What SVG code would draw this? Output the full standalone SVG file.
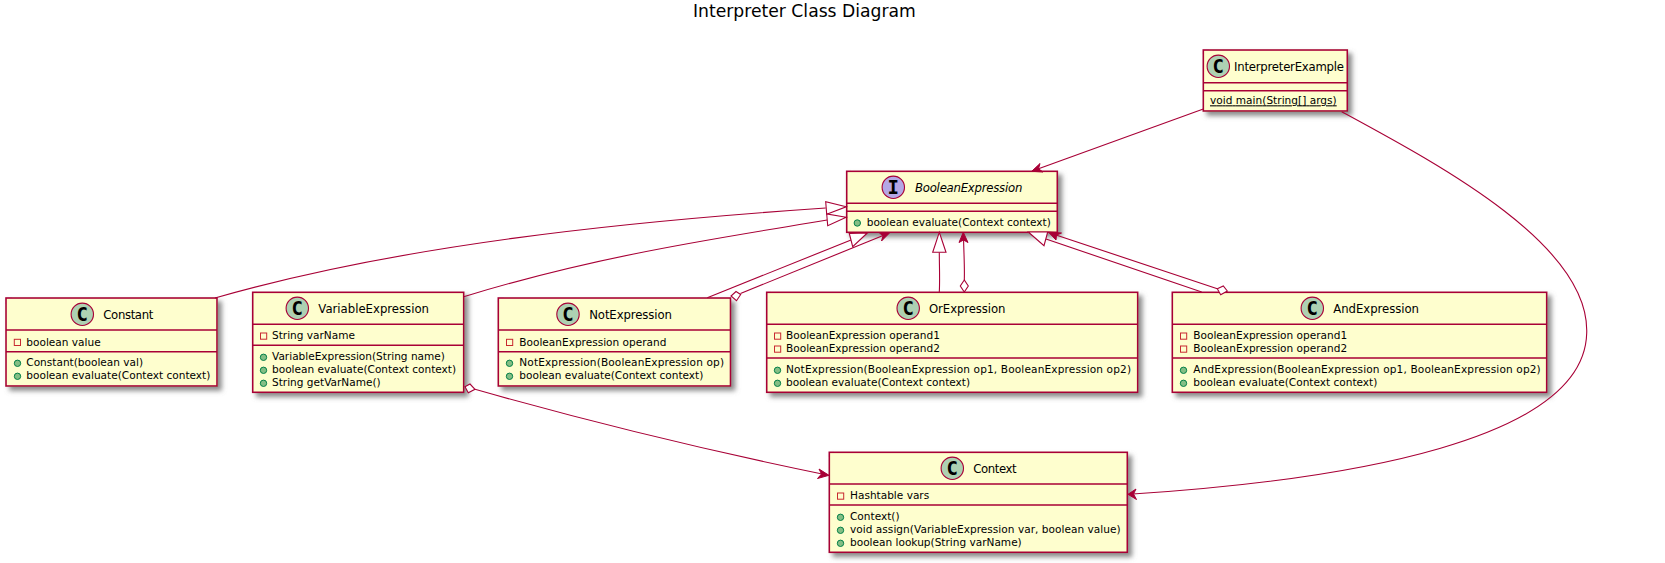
<svg xmlns="http://www.w3.org/2000/svg" width="1665" height="563" viewBox="0 0 1665 563">
<style>
text{font-family:"DejaVu Sans",sans-serif;fill:#000}
.t{font-size:17.2px}
.h{font-size:11.7px}
.m{font-size:10.55px}
.box{fill:#FEFECE;stroke:#A80036;stroke-width:1.6;filter:url(#sh)}
.sep{stroke:#A80036;stroke-width:1.6;fill:none}
.cc{fill:#ADD1B2;stroke:#A80036;stroke-width:1.1}
.ci{fill:#B4A7E5;stroke:#A80036;stroke-width:1.1}
.l{font-family:"DejaVu Sans Mono",monospace;font-size:19px;font-weight:bold;text-anchor:middle}
.pub{fill:#84BE84;stroke:#038048;stroke-width:1}
.pri{fill:none;stroke:#C82930;stroke-width:1}
.c{fill:none;stroke:#A80036;stroke-width:1.1}
.tri{fill:#fff;stroke:#A80036;stroke-width:1.1}
.arr{fill:#A80036;stroke:#A80036;stroke-width:1}
</style>
<defs>
<filter id="sh" x="-10%" y="-20%" width="125%" height="145%"><feDropShadow dx="4" dy="4" stdDeviation="2.5" flood-color="#777" flood-opacity="0.85"/></filter>
</defs>
<text class="t" x="693" y="16.5">Interpreter Class Diagram</text>
<g id="InterpreterExample">
<rect class="box" x="1203.3" y="50" width="144" height="61"/>
<path class="sep" d="M1203.3 82.7H1347.3M1203.3 90.7H1347.3"/>
<circle class="cc" cx="1218.3" cy="66.3" r="11.2"/><text class="l" x="1218.3" y="73">C</text>
<text class="h" x="1234" y="71" textLength="110">InterpreterExample</text>
<text class="m" x="1210" y="104.3" textLength="126.7" text-decoration="underline">void main(String[] args)</text>
</g>
<g id="BooleanExpression">
<rect class="box" x="846.7" y="171.3" width="210.6" height="61"/>
<path class="sep" d="M846.7 203.3H1057.3M846.7 211.3H1057.3"/>
<circle class="ci" cx="893.3" cy="187.3" r="11.2"/><text class="l" x="893.3" y="194">I</text>
<text class="h" x="915" y="191.5" font-style="italic" textLength="107.3">BooleanExpression</text>
<circle class="pub" cx="857.3" cy="223" r="3.2"/>
<text class="m" x="866.7" y="226">boolean evaluate(Context context)</text>
</g>
<g id="Constant">
<rect class="box" x="6" y="298" width="211" height="88"/>
<path class="sep" d="M6 330H217M6 351.7H217"/>
<circle class="cc" cx="82.3" cy="314.3" r="11.2"/><text class="l" x="82.3" y="321">C</text>
<text class="h" x="103.3" y="319" textLength="50">Constant</text>
<rect class="pri" x="14.3" y="339.3" width="6.2" height="6.2"/>
<text class="m" x="26.3" y="345.7">boolean value</text>
<circle class="pub" cx="17.5" cy="363.3" r="3.2"/><circle class="pub" cx="17.5" cy="376.3" r="3.2"/>
<text class="m" x="26.3" y="366">Constant(boolean val)</text>
<text class="m" x="26.3" y="379">boolean evaluate(Context context)</text>
</g>
<g id="VariableExpression">
<rect class="box" x="252.7" y="292.3" width="211" height="100"/>
<path class="sep" d="M252.7 324.3H463.7M252.7 345.3H463.7"/>
<circle class="cc" cx="297.3" cy="308.3" r="11.2"/><text class="l" x="297.3" y="315">C</text>
<text class="h" x="318.3" y="313" textLength="110.7">VariableExpression</text>
<rect class="pri" x="260.5" y="333" width="6.2" height="6.2"/>
<text class="m" x="272" y="339.3">String varName</text>
<circle class="pub" cx="263.5" cy="357.3" r="3.2"/><circle class="pub" cx="263.5" cy="370.3" r="3.2"/><circle class="pub" cx="263.5" cy="383.3" r="3.2"/>
<text class="m" x="272" y="360">VariableExpression(String name)</text>
<text class="m" x="272" y="373">boolean evaluate(Context context)</text>
<text class="m" x="272" y="386">String getVarName()</text>
</g>
<g id="NotExpression">
<rect class="box" x="498.3" y="298" width="232.2" height="88"/>
<path class="sep" d="M498.3 330H730.5M498.3 351.7H730.5"/>
<circle class="cc" cx="568" cy="314.3" r="11.2"/><text class="l" x="568" y="321">C</text>
<text class="h" x="589.2" y="319" textLength="82.7">NotExpression</text>
<rect class="pri" x="506.5" y="339.3" width="6.2" height="6.2"/>
<text class="m" x="519.3" y="345.7">BooleanExpression operand</text>
<circle class="pub" cx="509.5" cy="363.3" r="3.2"/><circle class="pub" cx="509.5" cy="376.3" r="3.2"/>
<text class="m" x="519.3" y="366" textLength="204.7">NotExpression(BooleanExpression op)</text>
<text class="m" x="519.3" y="379">boolean evaluate(Context context)</text>
</g>
<g id="OrExpression">
<rect class="box" x="766.7" y="292.3" width="371" height="100"/>
<path class="sep" d="M766.7 324.3H1137.7M766.7 358H1137.7"/>
<circle class="cc" cx="908.2" cy="308.3" r="11.2"/><text class="l" x="908.2" y="315">C</text>
<text class="h" x="929" y="313" textLength="76.5">OrExpression</text>
<rect class="pri" x="774.5" y="333" width="6.2" height="6.2"/><rect class="pri" x="774.5" y="346" width="6.2" height="6.2"/>
<text class="m" x="786" y="339.3">BooleanExpression operand1</text>
<text class="m" x="786" y="352.3">BooleanExpression operand2</text>
<circle class="pub" cx="777.5" cy="370.3" r="3.2"/><circle class="pub" cx="777.5" cy="383.3" r="3.2"/>
<text class="m" x="786" y="373.3" textLength="345">NotExpression(BooleanExpression op1, BooleanExpression op2)</text>
<text class="m" x="786" y="386.3">boolean evaluate(Context context)</text>
</g>
<g id="AndExpression">
<rect class="box" x="1172.3" y="292.3" width="374.4" height="100"/>
<path class="sep" d="M1172.3 324.3H1546.7M1172.3 358H1546.7"/>
<circle class="cc" cx="1312.3" cy="308.3" r="11.2"/><text class="l" x="1312.3" y="315">C</text>
<text class="h" x="1333.3" y="313" textLength="85.7">AndExpression</text>
<rect class="pri" x="1180.5" y="333" width="6.2" height="6.2"/><rect class="pri" x="1180.5" y="346" width="6.2" height="6.2"/>
<text class="m" x="1193.3" y="339.3">BooleanExpression operand1</text>
<text class="m" x="1193.3" y="352.3">BooleanExpression operand2</text>
<circle class="pub" cx="1183.5" cy="370.3" r="3.2"/><circle class="pub" cx="1183.5" cy="383.3" r="3.2"/>
<text class="m" x="1193.3" y="373.3" textLength="347.4">AndExpression(BooleanExpression op1, BooleanExpression op2)</text>
<text class="m" x="1193.3" y="386.3">boolean evaluate(Context context)</text>
</g>
<g id="Context">
<rect class="box" x="829.3" y="452.3" width="298" height="100"/>
<path class="sep" d="M829.3 484H1127.3M829.3 505H1127.3"/>
<circle class="cc" cx="952.3" cy="468.3" r="11.2"/><text class="l" x="952.3" y="475">C</text>
<text class="h" x="973.3" y="473.3" textLength="43.4">Context</text>
<rect class="pri" x="837.5" y="493" width="6.2" height="6.2"/>
<text class="m" x="850" y="499.3">Hashtable vars</text>
<circle class="pub" cx="840.5" cy="517.3" r="3.2"/><circle class="pub" cx="840.5" cy="530.3" r="3.2"/><circle class="pub" cx="840.5" cy="543.3" r="3.2"/>
<text class="m" x="850" y="520">Context()</text>
<text class="m" x="850" y="533" textLength="270.7">void assign(VariableExpression var, boolean value)</text>
<text class="m" x="850" y="546">boolean lookup(String varName)</text>
</g>
<g id="connectors">
<path class="c" d="M1203.3 109L1033 170.8"/>
<path class="arr" d="M1031.7 171.3L1043 172L1038.5 168.8L1040 163.5Z"/>
<path class="c" d="M1341.7 111.7C1440 165 1590 245 1586.7 333.3C1584 440 1350 480 1129 494.3"/>
<path class="arr" d="M1128 494.3L1136.5 499.5L1133.5 494L1136 489Z"/>
<path class="c" d="M215 298C400 245 620 222 825.7 208"/>
<path class="tri" d="M846.2 206.8L825.7 201.7L826.7 214.3Z"/>
<path class="c" d="M463.7 296.7C600 255 720 238 827.2 220"/>
<path class="tri" d="M846.2 217.3L826.7 214L827.7 225.7Z"/>
<path class="c" d="M707.3 297.7L851 240"/>
<path class="tri" d="M867.3 233L849.3 233.5L852.7 246.7Z"/>
<path class="c" d="M740.5 293.5L888 233.5"/>
<path class="arr" d="M890 232.5L879 232.5L883 236L881.5 241Z"/>
<path class="tri" d="M740.7 294.5L736 291.5L731 296L736.5 300.7Z"/>
<path class="c" d="M939.3 292C940 280 939.3 265 939.3 252.3"/>
<path class="tri" d="M939.3 232.3L932.7 252.3H946Z"/>
<path class="c" d="M964.3 280C964.8 265 963.6 250 963.5 234"/>
<path class="arr" d="M963.3 232.3L959 242.5L963.5 240L968 242.5Z"/>
<path class="tri" d="M964.3 280L960.3 286L964.3 292L968.3 286Z"/>
<path class="c" d="M1201.7 292L1046 239"/>
<path class="tri" d="M1028.3 232L1044 245.7L1047.7 232Z"/>
<path class="c" d="M1217.3 288.7L1050 233"/>
<path class="arr" d="M1048.3 232L1056 240L1056.5 235L1061.5 233Z"/>
<path class="tri" d="M1217.3 288.7L1223.3 286L1227.3 291L1220.7 294.7Z"/>
<path class="c" d="M475 389.3C590 422 700 449 827 475"/>
<path class="arr" d="M829 475.3L819 469L821.5 474L817.5 478.5Z"/>
<path class="tri" d="M465 386.7L470 384L475 389.3L468.3 392.7Z"/>
</g>
</svg>
